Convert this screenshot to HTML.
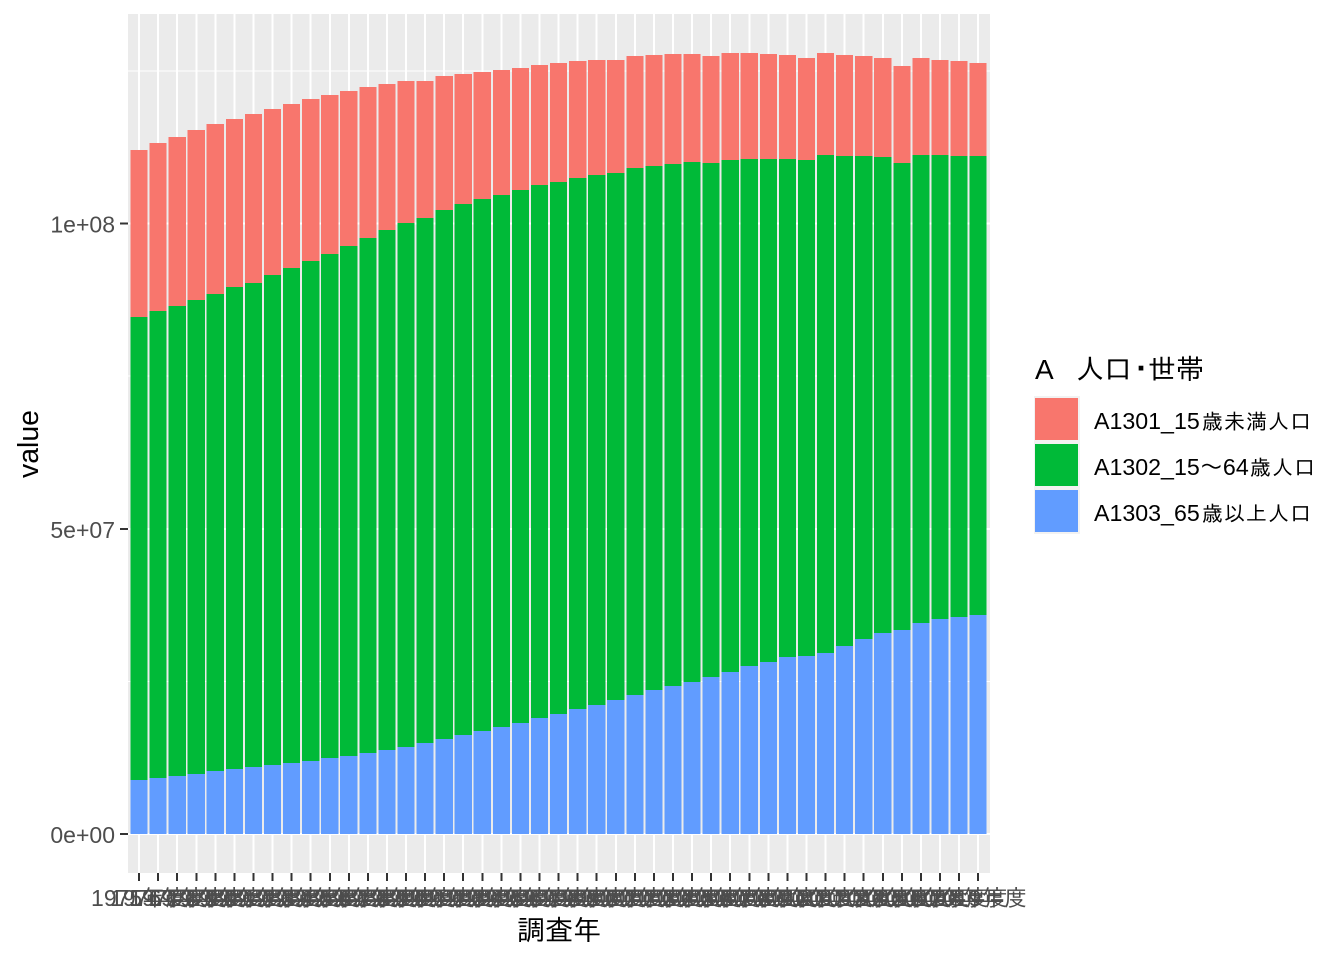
<!DOCTYPE html>
<html lang="ja">
<head>
<meta charset="utf-8">
<title>A 人口・世帯</title>
<style>
html,body{margin:0;padding:0;background:#fff;}
body{width:1344px;height:960px;overflow:hidden;}
svg{display:block;}
text{font-family:"Liberation Sans","IPAGothic","Noto Sans CJK JP",sans-serif;}
</style>
</head>
<body>
<svg id="chart" xmlns="http://www.w3.org/2000/svg" width="1344" height="960" viewBox="0 0 1344 960">
  <rect x="0" y="0" width="1344" height="960" fill="#fff"/>
  <rect x="128" y="14" width="862" height="859" fill="#EBEBEB"/>
  <g id="grid" shape-rendering="crispEdges"></g>
  <g id="bars" shape-rendering="crispEdges"></g>
  <g id="yaxis"></g>
  <g id="xaxis"></g>
  <text transform="translate(38,444) rotate(-90)" text-anchor="middle" font-size="28.4" fill="#000">value</text>
  <text x="559" y="940" text-anchor="middle" font-size="28" fill="#000">調査年</text>

  <g>
    <text y="379" font-size="28" fill="#000"><tspan x="1035">A</tspan><tspan x="1076">人口</tspan><tspan x="1134" font-weight="bold">･</tspan><tspan x="1148">世帯</tspan></text>
    <g shape-rendering="crispEdges">
      <rect x="1034" y="396" width="46" height="138" fill="#F2F2F2"/>
      <rect x="1035" y="398" width="43" height="42" fill="#F8766D"/>
      <rect x="1035" y="444" width="43" height="42" fill="#00BA38"/>
      <rect x="1035" y="490" width="43" height="42" fill="#619CFF"/>
    </g>
    <text y="429" font-size="23.2" fill="#000"><tspan x="1094">A1301_15</tspan><tspan x="1202" font-size="21" letter-spacing="1">歳未満人口</tspan></text>
    <text y="475" font-size="23.2" fill="#000"><tspan x="1094">A1302_15～64</tspan><tspan x="1250" font-size="21" letter-spacing="1">歳人口</tspan></text>
    <text y="521" font-size="23.2" fill="#000"><tspan x="1094">A1303_65</tspan><tspan x="1202" font-size="21" letter-spacing="1">歳以上人口</tspan></text>
  </g>
</svg>
<script>
const categories = ["1975年度","1976年度","1977年度","1978年度","1979年度","1980年度","1981年度","1982年度","1983年度","1984年度","1985年度","1986年度","1987年度","1988年度","1989年度","1990年度","1991年度","1992年度","1993年度","1994年度","1995年度","1996年度","1997年度","1998年度","1999年度","2000年度","2001年度","2002年度","2003年度","2004年度","2005年度","2006年度","2007年度","2008年度","2009年度","2010年度","2011年度","2012年度","2013年度","2014年度","2015年度","2016年度","2017年度","2018年度","2019年度"];
// Population in millions
const a1301Under15 = [27.35,27.52,27.68,27.85,27.85,27.52,27.68,27.19,26.86,26.54,26.04,25.39,24.73,23.91,23.26,22.44,21.95,21.29,20.80,20.48,19.98,19.66,19.49,19.16,18.84,18.51,18.35,18.18,18.02,17.69,17.53,17.53,17.36,17.20,17.04,16.71,16.71,16.54,16.38,16.22,15.89,15.89,15.56,15.56,15.23];
const a1302Age15to64 = [75.84,76.49,76.99,77.64,78.13,78.95,79.28,80.26,81.08,81.90,82.56,83.54,84.36,85.18,85.83,86.00,86.65,86.98,87.14,87.14,87.31,87.31,87.14,86.98,86.81,86.32,86.32,85.83,85.50,85.18,84.19,83.87,83.05,82.39,81.57,81.24,81.57,80.26,79.12,77.97,76.49,76.66,76.00,75.51,75.18];
const a1303Age65plus = [8.85,9.17,9.50,9.83,10.32,10.65,10.97,11.30,11.63,11.96,12.45,12.78,13.27,13.76,14.25,14.91,15.56,16.22,16.87,17.53,18.18,19.00,19.66,20.48,21.13,21.95,22.77,23.59,24.24,24.90,25.72,26.54,27.52,28.17,28.99,29.16,29.65,30.79,31.94,32.92,33.41,34.56,35.22,35.54,35.87];
const yTickValues = [0,50,100];
const yTickLabels = ["0e+00","5e+07","1e+08"];
const yMinorValues = [25,75,125];

const SVGNS = "http://www.w3.org/2000/svg";
const panelLeft = 128, panelRight = 990, panelTop = 14, panelBottom = 873;
const step = (panelRight - panelLeft) / (categories.length - 1 + 1.2);
function xScale(i){ return panelLeft + (0.6 + i) * step - 0.4; }
const stackTotals = categories.map(function(_, i){ return a1301Under15[i] + a1302Age15to64[i] + a1303Age65plus[i]; });
const yMax = Math.max.apply(null, stackTotals);
const yUnit = (panelBottom - panelTop) / (yMax * 1.1);
function yScale(v){ return panelBottom - (0.05 * yMax + v) * yUnit; }

function make(tag, parent, props){
  const el = document.createElementNS(SVGNS, tag);
  for (const k in props) el.setAttribute(k, props[k]);
  parent.appendChild(el);
  return el;
}

const grid = document.getElementById("grid");
yMinorValues.forEach(function(v){
  const l = make("line", grid, {x1:panelLeft, x2:panelRight, y1:yScale(v), y2:yScale(v), stroke:"#fff", "stroke-width":1});
  
  
});
yTickValues.forEach(function(v){
  const l = make("line", grid, {x1:panelLeft, x2:panelRight, y1:yScale(v), y2:yScale(v), stroke:"#fff", "stroke-width":2});
  
  
});
categories.forEach(function(_, i){
  const l = make("line", grid, {x1:xScale(i), x2:xScale(i), y1:panelTop, y2:panelBottom, stroke:"#fff", "stroke-width":2});
  
  
});

const bars = document.getElementById("bars");
const barWidth = step * 0.9;
categories.forEach(function(_, i){
  const b0 = 0;
  const b1 = b0 + a1303Age65plus[i];
  const b2 = b1 + a1302Age15to64[i];
  const b3 = b2 + a1301Under15[i];

  const blue = make("rect", bars, {x:xScale(i)-barWidth/2, width:barWidth, y:yScale(b1), height:yScale(b0)-yScale(b1), fill:"#619CFF"});
  
  

  const green = make("rect", bars, {x:xScale(i)-barWidth/2, width:barWidth, y:yScale(b2), height:yScale(b1)-yScale(b2), fill:"#00BA38"});
  
  

  const red = make("rect", bars, {x:xScale(i)-barWidth/2, width:barWidth, y:yScale(b3), height:yScale(b2)-yScale(b3), fill:"#F8766D"});
  
  
});

const yaxis = document.getElementById("yaxis");
yTickValues.forEach(function(v, i){
  const t = make("line", yaxis, {x1:120, x2:panelLeft, y1:yScale(v), y2:yScale(v), stroke:"#333333", "stroke-width":2, "shape-rendering":"crispEdges"});
  
  
  const lab = make("text", yaxis, {x:115, y:yScale(v)+9, "text-anchor":"end", "font-size":23, fill:"#4D4D4D"});
  lab.textContent = yTickLabels[i];
  
  
});

const xaxis = document.getElementById("xaxis");
categories.forEach(function(c, i){
  const t = make("line", xaxis, {x1:xScale(i), x2:xScale(i), y1:panelBottom, y2:panelBottom+8, stroke:"#333333", "stroke-width":2, "shape-rendering":"crispEdges"});
  
  
  const lab = make("text", xaxis, {x:xScale(i)+0.6, y:906, "text-anchor":"middle", "font-size":23, fill:"#4D4D4D"});
  lab.textContent = c;
  
  
});
</script>
</body>
</html>
